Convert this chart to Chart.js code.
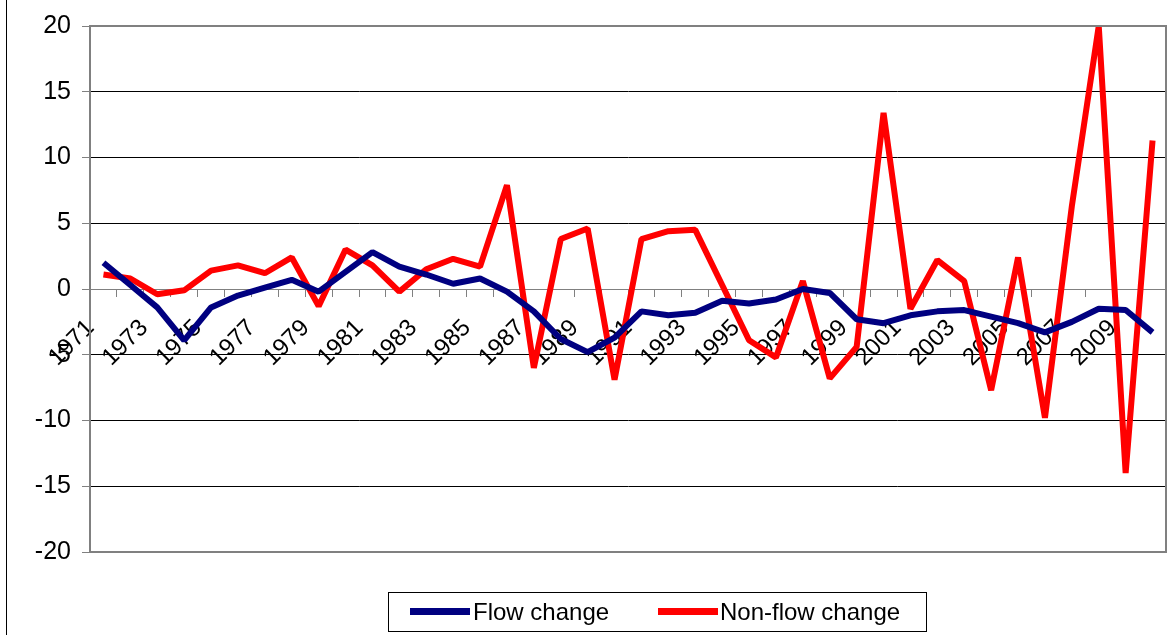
<!DOCTYPE html>
<html>
<head>
<meta charset="utf-8">
<script src="https://cdn.jsdelivr.net/npm/chart.js@4.4.1/dist/chart.umd.min.js"></script>
<style>
  body { margin: 0; background: #fff; }
  #wrap { position: relative; width: 1173px; height: 635px; overflow: hidden; }
  #borda { position: absolute; left: 6px; top: 0; width: 1px; height: 635px; background: #000; }
  #legenda {
    position: absolute; left: 388px; top: 592px; width: 539px; height: 40px;
    border: 1px solid #000; box-sizing: border-box;
    font-family: "Liberation Sans", Arial, sans-serif; font-size: 24px; color: #000;
  }
  #legenda .traco { position: absolute; top: 15px; width: 60px; height: 7px; }
  #legenda .texto { position: absolute; top: 5px; line-height: 28px; white-space: nowrap; }
</style>
</head>
<body>
<div id="wrap">
  <canvas id="grafico" width="1173" height="635"></canvas>
  <div id="borda"></div>
  <div id="legenda"></div>
</div>
<script>
const anos = [
  "1971", "1972", "1973", "1974", "1975", "1976", "1977", "1978", "1979", "1980",
  "1981", "1982", "1983", "1984", "1985", "1986", "1987", "1988", "1989", "1990",
  "1991", "1992", "1993", "1994", "1995", "1996", "1997", "1998", "1999", "2000",
  "2001", "2002", "2003", "2004", "2005", "2006", "2007", "2008", "2009", "2010"
];

const flowChange = [
  2.0, 0.3, -1.4, -3.9, -1.4, -0.5, 0.1, 0.7, -0.2, 1.3,
  2.8, 1.7, 1.1, 0.4, 0.8, -0.2, -1.7, -3.8, -4.8, -3.7,
  -1.7, -2.0, -1.8, -0.9, -1.1, -0.8, 0.0, -0.3, -2.3, -2.6,
  -2.0, -1.7, -1.6, -2.1, -2.6, -3.3, -2.5, -1.5, -1.6, -3.3
];

const nonFlowChange = [
  1.1, 0.8, -0.4, -0.1, 1.4, 1.8, 1.2, 2.4, -1.3, 3.0,
  1.8, -0.2, 1.5, 2.3, 1.7, 7.9, -6.0, 3.8, 4.6, -6.9,
  3.8, 4.4, 4.5, 0.3, -3.9, -5.2, 0.6, -6.8, -4.4, 13.4,
  -1.5, 2.2, 0.6, -7.7, 2.4, -9.8, 6.3, 20.0, -14.0, 11.3
];

const nomesSeries = ["Flow change", "Non-flow change"];
const coresSeries = ["#000080", "#FF0000"];

const fonte = "'Liberation Sans', Arial, sans-serif";

const moldura = {
  id: "moldura",
  afterDraw(chart) {
    const { ctx, chartArea } = chart;
    ctx.save();
    ctx.strokeStyle = "#808080";
    ctx.lineWidth = 2;
    ctx.strokeRect(chartArea.left, chartArea.top, chartArea.right - chartArea.left, chartArea.bottom - chartArea.top);
    ctx.restore();
  },
};

function serie(i, valores) {
  return {
    label: nomesSeries[i],
    data: valores,
    borderColor: coresSeries[i],
    backgroundColor: coresSeries[i],
    borderWidth: 6,
    borderJoinStyle: "bevel",
    pointRadius: 0,
    tension: 0,
  };
}

const grafico = new Chart(document.getElementById("grafico"), {
  type: "line",
  data: {
    labels: anos,
    datasets: [serie(0, flowChange), serie(1, nonFlowChange)],
  },
  options: {
    responsive: false,
    animation: false,
    devicePixelRatio: 1,
    layout: { padding: { left: 0, top: 22, right: 7, bottom: 83 } },
    plugins: { legend: { display: false }, tooltip: { enabled: false } },
    scales: {
      x: {
        position: { y: 0 },
        offset: true,
        afterFit: (escala) => { escala.paddingLeft = 0; escala.paddingRight = 0; },
        grid: {
          offset: true,
          drawOnChartArea: false,
          drawTicks: true,
          tickLength: 7,
          tickColor: "#808080",
        },
        border: { display: true, color: "#808080", width: 1 },
        ticks: {
          autoSkip: false,
          minRotation: 45,
          maxRotation: 45,
          padding: 18,
          labelOffset: -13,
          color: "#000",
          font: { family: fonte, size: 24 },
          callback: (v, i) => (i % 2 === 0 ? anos[i] : ""),
        },
      },
      y: {
        min: -20,
        max: 20,
        afterFit: (escala) => { escala.width = 90; },
        grid: {
          color: (c) => (c.tick && (c.tick.value === 0 || Math.abs(c.tick.value) === 20) ? "#808080" : "#000"),
          lineWidth: 1,
          drawTicks: true,
          tickLength: 8,
          tickColor: "#808080",
        },
        border: { display: true, color: "#808080", width: 2 },
        ticks: {
          stepSize: 5,
          padding: 11,
          color: "#000",
          font: { family: fonte, size: 25 },
        },
      },
    },
  },
  plugins: [moldura],
});

function montaLegenda() {
  const legenda = document.getElementById("legenda");
  const posicoes = [[21, 84], [269, 331]];
  grafico.data.datasets.forEach((ds, i) => {
    const traco = document.createElement("div");
    traco.className = "traco";
    traco.style.left = posicoes[i][0] + "px";
    traco.style.background = ds.borderColor;
    const texto = document.createElement("div");
    texto.className = "texto";
    texto.style.left = posicoes[i][1] + "px";
    texto.textContent = ds.label;
    legenda.appendChild(traco);
    legenda.appendChild(texto);
  });
}

montaLegenda();
</script>
</body>
</html>
